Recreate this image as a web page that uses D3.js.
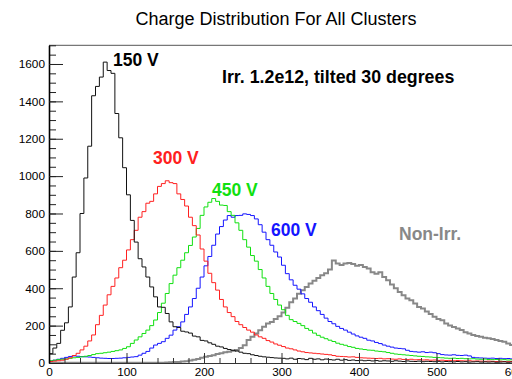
<!DOCTYPE html>
<html>
<head>
<meta charset="utf-8">
<script src="https://cdn.jsdelivr.net/npm/d3@7"></script>
<style>
  body { margin: 0; background: #fff; }
  svg { display: block; font-family: "Liberation Sans", Arial, sans-serif; }
  .tick text { font-size: 11.8px; fill: #000; }
</style>
</head>
<body>
<svg id="chart" width="512" height="379"></svg>
<script>
// histogram bins: 5 units wide, starting at 0
const binWidth = 5;
const xTicks = [0, 100, 200, 300, 400, 500, 600];
const yTicks = [0, 200, 400, 600, 800, 1000, 1200, 1400, 1600];

const counts150 = [
  50, 80, 105, 175, 215, 300, 460, 590, 800, 990,
  1160, 1430, 1480, 1530, 1610, 1565, 1550, 1335, 1205, 1045,
  900, 763, 647, 558, 514, 460, 407, 354, 300, 298,
  265, 220, 194, 190, 170, 166, 160, 144, 140, 121,
  118, 108, 100, 90, 86, 78, 72, 68, 64, 58,
  52, 50, 44, 40, 36, 33, 31, 29, 27, 26,
  25, 22, 26, 20, 24, 22, 18, 25, 20, 22,
  17, 21, 18, 16, 20, 15, 18, 14, 16, 13,
  15, 12, 14, 11, 13, 10, 12, 11, 9, 12,
  10, 8, 11, 9, 8, 10, 7, 9, 8, 7,
  9, 6, 8, 7, 6, 8, 6, 7, 5, 6,
  7, 5, 6, 5, 6, 4, 5, 6, 4, 5
];

const counts300 = [
  8, 10, 12, 15, 20, 28, 40, 52, 70, 90,
  118, 150, 205, 255, 310, 365, 410, 455, 510, 550,
  605, 660, 710, 780, 810, 855, 865, 905, 945, 960,
  975, 965, 960, 905, 875, 840, 780, 735, 685, 610,
  545, 480, 430, 390, 340, 300, 270, 248, 222, 205,
  190, 176, 165, 150, 140, 132, 120, 112, 102, 95,
  88, 80, 76, 70, 64, 60, 56, 54, 52, 50,
  48, 46, 44, 40, 36, 35, 34, 32, 33, 30,
  28, 27, 26, 25, 24, 25, 22, 23, 21, 20,
  22, 19, 18, 20, 17, 18, 16, 17, 15, 16,
  14, 15, 13, 14, 12, 13, 12, 11, 12, 10,
  11, 10, 9, 10, 9, 8, 9, 8, 7, 8
];

const counts450 = [
  12, 15, 18, 20, 22, 25, 28, 30, 33, 36,
  40, 45, 50, 52, 55, 58, 62, 66, 70, 78,
  87, 105, 123, 140, 158, 176, 200, 230, 270, 320,
  372, 425, 470, 510, 550, 590, 629, 674, 720, 790,
  835, 860, 880, 865, 845, 843, 810, 790, 750, 710,
  660, 620, 575, 545, 500, 455, 410, 372, 340, 310,
  285, 255, 232, 222, 212, 200, 185, 175, 160, 148,
  138, 130, 122, 115, 106, 100, 95, 88, 84, 78,
  75, 72, 69, 68, 64, 62, 60, 56, 52, 48,
  46, 44, 42, 40, 38, 36, 35, 33, 32, 30,
  29, 28, 26, 25, 26, 24, 25, 23, 22, 23,
  21, 20, 21, 19, 18, 19, 17, 18, 16, 17
];

const counts600 = [
  10, 15, 20, 25, 30, 35, 38, 36, 34, 33,
  32, 30, 28, 26, 25, 24, 24, 25, 26, 28,
  30, 32, 34, 42, 52, 62, 80, 96, 105, 114,
  132, 149, 176, 194, 220, 260, 300, 345, 400, 460,
  520, 570, 630, 690, 730, 765, 789, 780, 789, 790,
  798, 795, 789, 771, 740, 700, 660, 630, 594, 567,
  523, 478, 445, 416, 395, 370, 345, 325, 300, 280,
  260, 240, 222, 210, 196, 185, 176, 165, 155, 145,
  138, 132, 122, 118, 110, 104, 96, 90, 85, 80,
  78, 76, 68, 62, 60, 58, 60, 56, 58, 55,
  50, 45, 43, 42, 44, 41, 40, 42, 38, 30,
  28, 27, 26, 25, 26, 24, 25, 23, 24, 22
];

const countsNonIrr = [
  2, 2, 2, 2, 2, 2, 2, 2, 2, 2,
  2, 2, 2, 2, 2, 2, 2, 2, 2, 2,
  2, 2, 2, 2, 2, 2, 2, 2, 2, 2,
  3, 4, 5, 6, 8, 10, 14, 18, 22, 28,
  34, 38, 42, 48, 52, 58, 60, 66, 70, 80,
  95, 123, 140, 158, 175, 194, 212, 220, 235, 250,
  270, 295, 325, 345, 370, 389, 407, 425, 440, 455,
  469, 480, 500, 549, 532, 525, 532, 535, 530, 520,
  525, 514, 505, 485, 478, 485, 460, 443, 420, 400,
  380, 363, 345, 336, 318, 300, 292, 275, 262, 247,
  235, 229, 212, 200, 192, 185, 176, 165, 158, 150,
  145, 140, 135, 132, 128, 123, 118, 114, 105, 96
];

const seriesNames = ['150 V', '300 V', '450 V', '600 V', 'Non-Irr.'];
const seriesColors = ['#111111', '#ff2020', '#10e010', '#1515ff', '#888888'];

const svg = d3.select('#chart');

const x = d3.scaleLinear().domain([0, 600]).range([49, 514]);
const y = d3.scaleLinear().domain([0, 1700]).range([363, 45.3]);

// title
svg.append('text')
  .attr('x', 276)
  .attr('y', 25)
  .attr('text-anchor', 'middle')
  .style('font-size', '18px')
  .text('Charge Distribution For All Clusters');

// top frame line
svg.append('line')
  .attr('x1', x(0)).attr('x2', 512)
  .attr('y1', y(1700)).attr('y2', y(1700))
  .attr('stroke', '#555')
  .attr('stroke-width', 1);

svg.append('clipPath').attr('id', 'plot-clip')
  .append('rect')
  .attr('x', x(0)).attr('y', y(1700))
  .attr('width', x(600) - x(0)).attr('height', y(0) - y(1700));

let plot = svg.append('g').attr('clip-path', 'url(#plot-clip)');

let allCounts = [counts150, counts300, counts450, counts600, countsNonIrr];

let line = d3.line()
  .x(d => x(d[0]))
  .y(d => y(d[1]))
  .curve(d3.curveStepAfter);

// draw grey (non-irradiated) first, then the others on top
[4, 3, 2, 1, 0].forEach(k => {
  let counts = allCounts[k];
  let pts = counts.map((c, i) => [i * binWidth, c]);
  pts.push([counts.length * binWidth, counts[counts.length - 1]]);
  plot.append('path')
    .datum(pts)
    .attr('fill', 'none')
    .attr('stroke', seriesColors[k])
    .attr('stroke-width', k === 4 ? 2 : 1)
    .attr('d', line);
});

// x axis, minor ticks
svg.append('g')
  .attr('transform', `translate(0,${y(0)})`)
  .call(d3.axisBottom(x).tickValues(d3.range(0, 601, 20)).tickSizeInner(-5).tickSizeOuter(0).tickFormat(''))
  .call(g => g.select('.domain').remove())
  .selectAll('line').attr('stroke', '#333');

// x axis, major ticks
svg.append('g')
  .attr('transform', `translate(0,${y(0)})`)
  .call(d3.axisBottom(x).tickValues(xTicks).tickSizeInner(-10).tickSizeOuter(0).tickPadding(5).tickFormat(d3.format('d')))
  .call(g => g.select('.domain').attr('stroke', '#333'))
  .call(g => g.selectAll('.tick line').attr('stroke', '#333'))
  .call(g => g.selectAll('text').style('font-family', '"Liberation Sans", Arial, sans-serif'));

// y axis, minor ticks
svg.append('g')
  .attr('transform', `translate(${x(0)},0)`)
  .call(d3.axisLeft(y).tickValues(d3.range(0, 1701, 50)).tickSizeInner(-7).tickSizeOuter(0).tickFormat(''))
  .call(g => g.select('.domain').remove())
  .selectAll('line').attr('stroke', '#222');

// y axis, major ticks
svg.append('g')
  .attr('transform', `translate(${x(0)},0)`)
  .call(d3.axisLeft(y).tickValues(yTicks).tickSizeInner(-14).tickSizeOuter(0).tickPadding(4).tickFormat(d3.format('d')))
  .call(g => g.select('.domain').attr('stroke', '#000').attr('stroke-width', 1.6))
  .call(g => g.selectAll('.tick line').attr('stroke', '#222'))
  .call(g => g.selectAll('text').style('font-family', '"Liberation Sans", Arial, sans-serif'));

// labels
const labelX = [113, 153, 212, 271, 399];
const labelY = [66, 164, 196, 236, 240];
seriesNames.forEach((name, k) => {
  svg.append('text')
    .attr('x', labelX[k])
    .attr('y', labelY[k])
    .style('font-size', '17.5px')
    .style('font-weight', 'bold')
    .attr('fill', k === 0 ? '#000' : seriesColors[k])
    .text(name);
});

svg.append('text')
  .attr('x', 222)
  .attr('y', 83)
  .style('font-size', '17.8px')
  .style('font-weight', 'bold')
  .text('Irr. 1.2e12, tilted 30 degrees');
</script>
</body>
</html>
